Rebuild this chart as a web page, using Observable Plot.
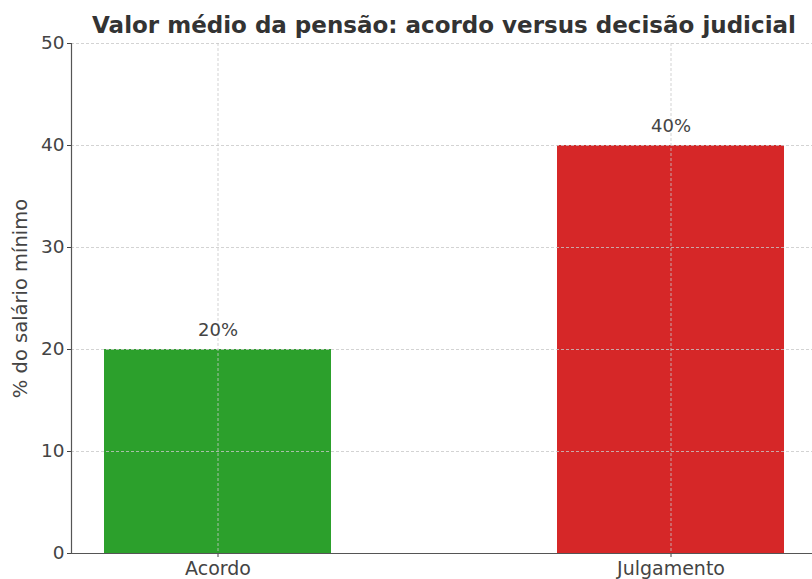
<!DOCTYPE html>
<html>
<head>
<meta charset="utf-8">
<script src="https://cdn.jsdelivr.net/npm/d3@7"></script>
<script src="https://cdn.jsdelivr.net/npm/@observablehq/plot@0.6"></script>
<style>
  html, body { margin: 0; padding: 0; background: #fff; overflow: hidden; width: 812px; height: 579px; }
  #title { font-family: "DejaVu Sans", sans-serif; font-weight: bold; font-size: 23px; color: #333;
           height: 30px; line-height: 30px; padding-top: 10px; text-align: center; padding-left: 76px; width: 736px; white-space: nowrap; }
  #chart svg { overflow: visible; display: block; }
</style>
</head>
<body>
<div id="title">Valor médio da pensão: acordo versus decisão judicial</div>
<div id="chart"></div>
<script>
const categories = ["Acordo", "Julgamento"];
const values = [20, 40];
const colors = ["#2ca02c", "#d62728"];
const yTicks = [0, 10, 20, 30, 40, 50];
const yLabel = "% do salário mínimo";

const data = categories.map((c, i) => ({category: c, value: values[i], color: colors[i]}));
const font = "DejaVu Sans, sans-serif";

const chart = Plot.plot({
  width: 812,
  height: 539,
  marginTop: 3,
  marginBottom: 26,
  marginLeft: 71,
  marginRight: 0,
  style: {fontFamily: font, background: "white"},
  x: {domain: categories, range: [69, 818], paddingInner: 0.5, paddingOuter: 0.075, align: 0.5},
  y: {domain: [0, 50], ticks: yTicks},
  marks: [
    Plot.barY(data, {x: "category", y: "value", fill: "color"}),
    Plot.gridY(yTicks, {stroke: "#c8c8c8", strokeOpacity: 1, strokeDasharray: "3,2", strokeWidth: 0.8}),
    Plot.gridX(categories, {stroke: "#c8c8c8", strokeOpacity: 1, strokeDasharray: "3,2", strokeWidth: 0.8}),
    Plot.text(data, {x: "category", y: "value", text: d => d.value + "%", dy: -19, fontSize: 18, fill: "#444"}),
    Plot.axisY(yTicks, {tickSize: 4, tickPadding: 3, fontSize: 18.5, color: "#444", label: null, tickFormat: d => d}),
    Plot.axisX({tickSize: 4, tickPadding: 4, fontSize: 19, color: "#444", label: null}),
    Plot.ruleY([0], {stroke: "#555", strokeWidth: 1.2}),
    Plot.frame({anchor: "left", stroke: "#555", strokeWidth: 1.2}),
    Plot.text([yLabel], {frameAnchor: "left", textAnchor: "middle", rotate: -90, dx: -51, fontSize: 19.5, fill: "#444"})
  ]
});
document.getElementById("chart").appendChild(chart);
</script>
</body>
</html>
